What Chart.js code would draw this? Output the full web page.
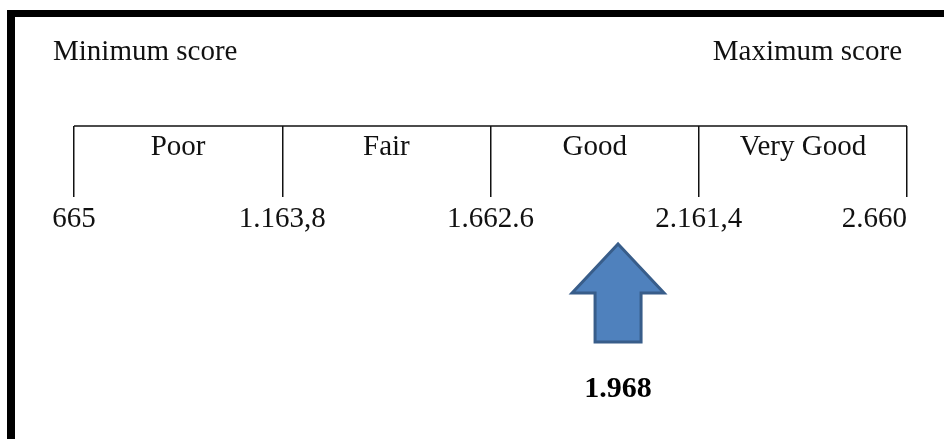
<!DOCTYPE html>
<html>
<head>
<meta charset="utf-8">
<script src="https://cdn.jsdelivr.net/npm/chart.js@4/dist/chart.umd.min.js"></script>
<style>
  html, body { margin: 0; padding: 0; background: #fff; }
  #wrap { position: relative; width: 944px; height: 439px; overflow: hidden; }
  #frame {
    position: absolute; left: 7px; top: 10px; right: -10px; bottom: -10px;
    border-top: 7px solid #000; border-left: 8px solid #000;
  }
  canvas { position: absolute; left: 0; top: 0; }
</style>
</head>
<body>
<div id="wrap">
  <div id="frame"></div>
  <canvas id="scaleChart" width="944" height="439"></canvas>
</div>
<script>
// Score bands
var breakpoints = [665, 1163.8, 1662.6, 2161.4, 2660];
var tickLabels = ['665', '1.163,8', '1.662.6', '2.161,4', '2.660'];
var categories = ['Poor', 'Fair', 'Good', 'Very Good'];
var score = 1968;
var scoreLabel = '1.968';
var minLabel = 'Minimum score';
var maxLabel = 'Maximum score';

var serif = "'Liberation Serif', 'Times New Roman', serif";

// Draw texts and the arrow on top of the scale
var scaleLabels = {
    id: 'scaleLabels',
    afterDraw: function(chart) {
        var ctx = chart.ctx;
        var x = chart.scales.x;
        var area = chart.chartArea;
        ctx.save();
        ctx.fillStyle = '#111';
        ctx.font = '29px ' + serif;
        ctx.textBaseline = 'alphabetic';

        // top corner captions
        ctx.textAlign = 'left';
        ctx.fillText(minLabel, 53, 60);
        ctx.textAlign = 'right';
        ctx.fillText(maxLabel, 902, 60);

        // band names, centred in each band
        ctx.textAlign = 'center';
        categories.forEach(function(name, i) {
            var mid = (x.getPixelForValue(breakpoints[i]) + x.getPixelForValue(breakpoints[i + 1])) / 2;
            ctx.fillText(name, mid, area.top + 29);
        });

        // values under the ticks
        breakpoints.forEach(function(v, i) {
            var px = x.getPixelForValue(v);
            ctx.textAlign = (i === breakpoints.length - 1) ? 'right' : 'center';
            ctx.fillText(tickLabels[i], px, area.bottom + 30);
        });

        // arrow pointing at the score
        var ax = x.getPixelForValue(score);
        var tip = 244, headBase = 293, bottom = 342, headHalf = 46, shaftHalf = 23;
        ctx.beginPath();
        ctx.moveTo(ax, tip);
        ctx.lineTo(ax + headHalf, headBase);
        ctx.lineTo(ax + shaftHalf, headBase);
        ctx.lineTo(ax + shaftHalf, bottom);
        ctx.lineTo(ax - shaftHalf, bottom);
        ctx.lineTo(ax - shaftHalf, headBase);
        ctx.lineTo(ax - headHalf, headBase);
        ctx.closePath();
        ctx.fillStyle = '#4f81bd';
        ctx.fill();
        ctx.lineWidth = 3;
        ctx.strokeStyle = '#385d8a';
        ctx.stroke();

        ctx.fillStyle = '#000';
        ctx.font = 'bold 30px ' + serif;
        ctx.textAlign = 'center';
        ctx.fillText(scoreLabel, ax, 397);
        ctx.restore();
    }
};

var ctx = document.getElementById('scaleChart').getContext('2d');
var scaleChart = new Chart(ctx, {
    type: 'line',
    data: {
        datasets: [{
            label: 'scale',
            data: breakpoints.map(function(v) { return { x: v, y: 1 }; }),
            borderColor: '#111',
            borderWidth: 1.5,
            pointRadius: 0,
            clip: false
        }]
    },
    options: {
        responsive: false,
        animation: false,
        layout: {
            padding: { left: 74, right: 37, top: 126, bottom: 242 }
        },
        plugins: {
            legend: { display: false },
            tooltip: { enabled: false }
        },
        scales: {
            x: {
                type: 'linear',
                min: breakpoints[0],
                max: breakpoints[breakpoints.length - 1],
                afterBuildTicks: function(axis) {
                    axis.ticks = breakpoints.map(function(v) { return { value: v }; });
                },
                ticks: { display: false },
                border: { display: false },
                grid: {
                    color: '#111',
                    lineWidth: 1.5,
                    drawTicks: false
                }
            },
            y: {
                display: false,
                min: 0,
                max: 1
            }
        }
    },
    plugins: [scaleLabels]
});
</script>
</body>
</html>
